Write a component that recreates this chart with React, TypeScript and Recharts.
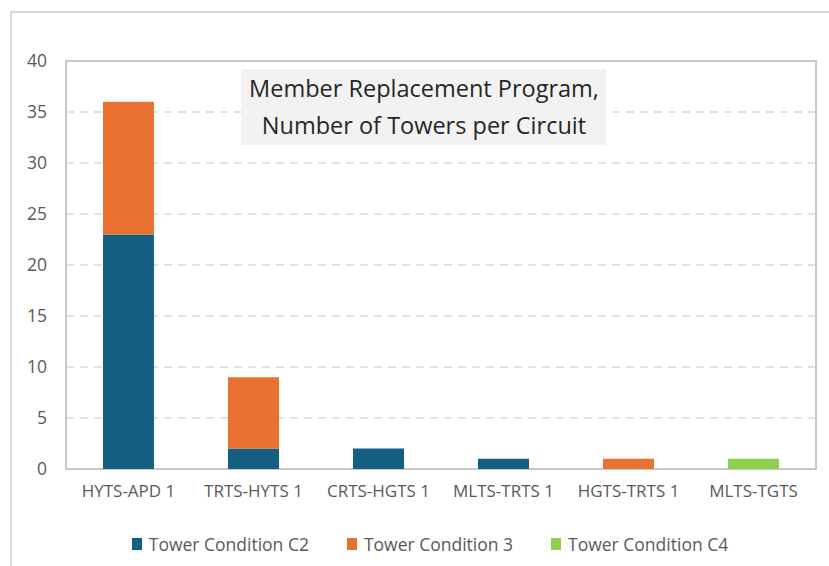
import React from "react";
import {
  BarChart, Bar, XAxis, YAxis, CartesianGrid, Legend,
  ReferenceArea, Customized,
} from "recharts";

const circuits = ["HYTS-APD  1", "TRTS-HYTS 1", "CRTS-HGTS 1", "MLTS-TRTS 1", "HGTS-TRTS 1", "MLTS-TGTS"];
const conditionC2 = [23, 2, 2, 1, 0, 0];
const condition3 = [13, 7, 0, 0, 1, 0];
const conditionC4 = [0, 0, 0, 0, 0, 1];
const yTicks = [0, 5, 10, 15, 20, 25, 30, 35, 40];
const titleLines = ["Member Replacement Program,", "Number of Towers per Circuit"];

const series = [
  { key: "c2", name: "Tower Condition C2", color: "#156082" },
  { key: "c3", name: "Tower Condition 3", color: "#E97132" },
  { key: "c4", name: "Tower Condition C4", color: "#8ED14F" },
];

const data = circuits.map((circuit, i) => ({
  circuit,
  c2: conditionC2[i],
  c3: condition3[i],
  c4: conditionC4[i],
}));

const FONT = "'Open Sans', sans-serif";

function TitleBox() {
  return (
    <g>
      <rect x={241} y={69} width={365} height={76} fill="#F2F2F2" />
      {titleLines.map((line, i) => (
        <text
          key={line}
          x={424}
          y={97 + i * 37}
          textAnchor="middle"
          fontSize={23.5}
          fontFamily={FONT}
          fill="#262626"
        >
          {line}
        </text>
      ))}
    </g>
  );
}

function LegendContent() {
  return (
    <div style={{ display: "flex", justifyContent: "center", gap: 38, paddingLeft: 44 }}>
      {series.map((s) => (
        <div key={s.key} style={{ display: "flex", alignItems: "center", gap: 7 }}>
          <span style={{ width: 10, height: 12, background: s.color, display: "inline-block" }} />
          <span style={{ fontSize: 17.5, color: "#595959", fontFamily: FONT }}>{s.name}</span>
        </div>
      ))}
    </div>
  );
}

export default function App() {
  return (
    <div style={{ position: "fixed", left: 0, top: 0, width: 829, height: 566, overflow: "hidden", background: "#fff" }}>
      <div
        style={{
          position: "absolute", left: 10, top: 11, width: 840, height: 600,
          border: "2px solid #D9D9D9",
        }}
      />
      <div style={{ position: "absolute", left: 0, top: 0 }}>
        <BarChart
          width={829}
          height={566}
          data={data}
          margin={{ top: 61, right: 13, left: 0, bottom: 4 }}
          barSize={51}
        >
          <CartesianGrid vertical={false} stroke="#D9D9D9" strokeDasharray="8 6" strokeWidth={1.5} />
          <ReferenceArea y1={0} y2={40} fill="none" stroke="#C8C8C8" strokeWidth={2} />
          <XAxis
            dataKey="circuit"
            height={63}
            axisLine={false}
            tickLine={false}
            tickSize={0}
            tickMargin={16}
            interval={0}
            tick={{ fontSize: 17, fill: "#595959", fontFamily: FONT }}
          />
          <YAxis
            width={66}
            domain={[0, 40]}
            ticks={yTicks}
            axisLine={false}
            tickLine={false}
            tickSize={0}
            tickMargin={19}
            tick={{ fontSize: 17.5, fill: "#595959", fontFamily: FONT }}
          />
          <Legend verticalAlign="bottom" height={30} content={<LegendContent />} />
          {series.map((s) => (
            <Bar
              key={s.key}
              dataKey={s.key}
              name={s.name}
              stackId="a"
              fill={s.color}
              isAnimationActive={false}
            />
          ))}
          <Customized component={<TitleBox />} />
        </BarChart>
      </div>
    </div>
  );
}
